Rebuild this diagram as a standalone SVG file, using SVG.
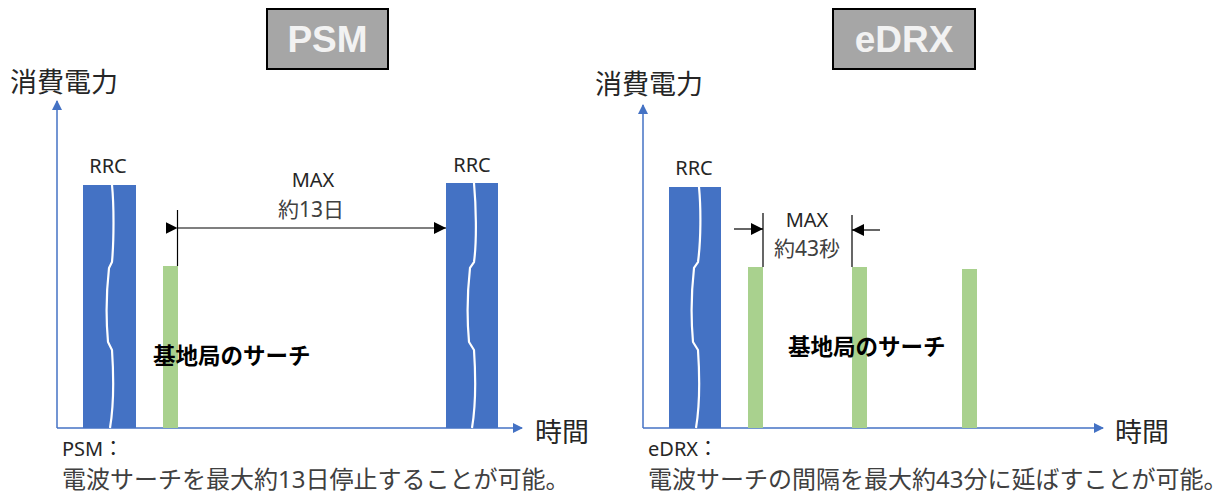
<svg xmlns="http://www.w3.org/2000/svg" width="1227" height="495" viewBox="0 0 1227 495">
<style>
.title{fill:#a6a6a6;stroke:#000;stroke-width:2}
.ttext{font-family:"Liberation Sans",Arial,sans-serif;font-weight:bold;font-size:37px;fill:#f2f2f2;text-anchor:middle}
.jp{font-family:"Noto Sans","Noto Sans CJK JP",sans-serif;fill:#262626}
.ax{font-size:27px}
.lbl{font-size:20px;text-anchor:middle}
.gray{fill:#404040;font-size:21px}
.bold{font-weight:bold;font-size:22.5px;fill:#000}
.note{font-size:24px;fill:#404040}
.axis{stroke:#4472c4;stroke-width:1.5;fill:none}
.rrc{fill:#4472c4}
.wave{fill:none;stroke:#fff;stroke-width:2.2}
.grn{fill:#a9d18e}
.dim{stroke:#000;stroke-width:1.2;fill:none}
</style>
<defs>
<marker id="ax" viewBox="0 0 10 10" refX="9" refY="5" markerWidth="10" markerHeight="10" markerUnits="userSpaceOnUse" orient="auto"><path d="M0,0 L10,5 L0,10 z" fill="#4472c4"/></marker>
<marker id="ah" viewBox="0 0 10 10" refX="10" refY="5" markerWidth="12" markerHeight="12" markerUnits="userSpaceOnUse" orient="auto"><path d="M0,0 L10,5 L0,10 z" fill="#000"/></marker>
</defs>
<g id="psm-title"><rect class="title" x="267" y="9" width="121" height="60"/><text class="ttext" x="327.5" y="52">PSM</text></g>
<g id="edrx-title"><rect class="title" x="833" y="9" width="142" height="60"/><text class="ttext" x="904" y="52">eDRX</text></g>
<g id="psm-axes">
<path class="axis" d="M57,428 L57,101" marker-end="url(#ax)"/>
<path class="axis" d="M57,428 L522,428" marker-end="url(#ax)"/>
<text class="jp ax" x="10" y="92">消費電力</text>
<text class="jp ax" x="535" y="442">時間</text>
</g>
<g id="psm-rrc1"><rect class="rrc" x="83" y="185" width="53" height="243"/><path class="wave" d="M112,185 C114,205 114,240 112,262 L109,268 C106,295 106,320 108,342 L112,350 C114,380 113,410 110,428"/><text class="jp lbl" x="108" y="173">RRC</text></g>
<g id="psm-search"><rect class="grn" x="163" y="266" width="15" height="162"/></g>
<g id="psm-rrc2"><rect class="rrc" x="446" y="183" width="52" height="245"/><path class="wave" d="M474,183 C476,205 477,240 474,262 L470,268 C467,295 467,320 469,342 L474,350 C476,380 475,410 472,428"/><text class="jp lbl" x="472" y="172">RRC</text></g>
<g id="psm-labels">
<text class="jp lbl" x="313" y="187">MAX</text>
<text class="jp lbl gray" x="311" y="217">約13日</text>
<text class="jp bold" x="153" y="364">基地局のサーチ</text>
<text class="jp" x="62" y="456" font-size="20">PSM：</text>
<text class="jp note" x="62" y="488">電波サーチを最大約13日停止することが可能。</text>
</g>
<g id="edrx-axes">
<path class="axis" d="M643,428 L643,105" marker-end="url(#ax)"/>
<path class="axis" d="M643,428 L1103,428" marker-end="url(#ax)"/>
<text class="jp ax" x="595" y="94">消費電力</text>
<text class="jp ax" x="1115" y="442">時間</text>
</g>
<g id="edrx-rrc"><rect class="rrc" x="669" y="187" width="52" height="241"/><path class="wave" d="M699,187 C701,208 701,240 698,262 L694,268 C691,295 691,320 693,342 L698,350 C700,380 699,410 696,428"/><text class="jp lbl" x="694" y="175">RRC</text></g>
<g id="edrx-search1"><rect class="grn" x="748" y="267" width="15" height="161"/></g>
<g id="edrx-search2"><rect class="grn" x="852" y="267" width="15" height="161"/></g>
<g id="edrx-search3"><rect class="grn" x="962" y="269" width="15" height="159"/></g>
<g id="edrx-labels">
<text class="jp lbl" x="807" y="227">MAX</text>
<text class="jp lbl gray" x="807" y="256">約43秒</text>
<text class="jp bold" x="788" y="355">基地局のサーチ</text>
<text class="jp" x="648" y="456" font-size="20">eDRX：</text>
<text class="jp note" x="648" y="488">電波サーチの間隔を最大約43分に延ばすことが可能。</text>
</g>
<g id="connectors">
<path class="dim" d="M177.5,210 L177.5,266"/>
<path class="dim" d="M177.5,228 L446,228" marker-start="url(#ah)" marker-end="url(#ah)"/>
<path class="dim" d="M763,213 L763,267"/>
<path class="dim" d="M852,215 L852,267"/>
<path class="dim" d="M734,229 L763,229" marker-end="url(#ah)"/>
<path class="dim" d="M880,230 L852,230" marker-end="url(#ah)"/>
</g>
</svg>
